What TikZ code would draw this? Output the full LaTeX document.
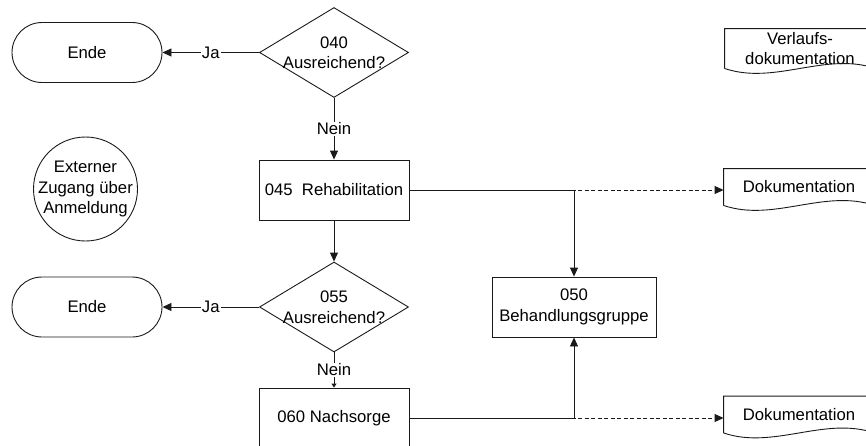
\documentclass[tikz,border=0pt]{standalone}
\usepackage{fontspec}
\setmainfont{Liberation Sans}
\usepackage{xcolor}
\usetikzlibrary{shapes.geometric,shapes.misc,arrows.meta}
\definecolor{flowLine}{HTML}{1a1a1a}

\begin{document}
\begin{tikzpicture}[x=1pt,y=-1pt,line width=0.9pt,draw=flowLine]
    \pgfmathsetmacro{\w}{150}
    \pgfmathsetmacro{\h}{60}
    \tikzset{
        every node/.style={font=\fontsize{16.7}{20.5}\selectfont,inner sep=0pt},
        procBox/.style={draw,rectangle,minimum width=\w,minimum height=\h,align=center},
        endBox/.style={draw,rounded rectangle,minimum width=\w,minimum height=\h},
        decisionBox/.style={draw,diamond,minimum width=149,minimum height=90,label={[align=center]center:#1}},
        startBox/.style={draw,circle,minimum size=104,label={[align=center]center:#1}},
        docBox/.style={rectangle,minimum width=\w,minimum height=36,align=center},
        flowArrow/.style={-{Triangle[length=9pt,width=8pt]}},
        smallArrow/.style={-{Triangle[length=4pt,width=5pt]}},
        docArrow/.style={dashed,dash pattern=on 4pt off 2.5pt,-{Triangle[length=9pt,width=8pt]}},
        answer/.style={fill=white,inner sep=1pt}
    }
    \useasboundingbox (0,0) rectangle (866,445);
    \clip (0,0) rectangle (866,445);

    \node[endBox] (ende040) at (87,52.5) {Ende};
    \node[decisionBox={040\\Ausreichend?}] (dec040) at (334,52.5) {};
    \node[startBox={Externer\\Zugang über\\Anmeldung}] (extern) at (85.5,189) {};
    \node[procBox] (reha045) at (334,190) {045~~Rehabilitation};
    \node[endBox] (ende055) at (87,307) {Ende};
    \node[decisionBox={055\\Ausreichend?}] (dec055) at (334,307) {};
    \node[procBox,minimum width=164] (grp050) at (574,307) {050\\Behandlungsgruppe};
    \node[procBox] (nach060) at (334,418) {060 Nachsorge};
    \node[docBox,minimum height=39] (docVerlauf) at (800,48.5) {Verlaufs-\\dokumentation};
    \node[docBox] (doc045) at (799,187) {Dokumentation};
    \node[docBox] (doc060) at (799,414.5) {Dokumentation};

    \foreach \d in {docVerlauf,doc045,doc060}{
        \draw (\d.south west) -- (\d.north west) -- (\d.north east) -- (\d.south east)
            .. controls +(-50,-17) and +(50,17) .. (\d.south west);
        }

    \draw[flowArrow] (dec040.west) -- node[answer] {Ja} (ende040.east);
    \draw[flowArrow] (dec040.south) -- node[answer] {Nein} (reha045.north);
    \draw[flowArrow] (reha045.south) -- (dec055.north);
    \draw[flowArrow] (dec055.west) -- node[answer] {Ja} (ende055.east);
    \draw[smallArrow] (dec055.south) -- node[answer] {Nein} (nach060.north);
    \draw[flowArrow] (reha045.east) -| (grp050.north);
    \draw[docArrow] (reha045.east) -- (reha045.east -| doc045.west);
    \draw[flowArrow] (nach060.east) -| (grp050.south);
    \draw[docArrow] (nach060.east) -- (nach060.east -| doc060.west);
\end{tikzpicture}
\end{document}
